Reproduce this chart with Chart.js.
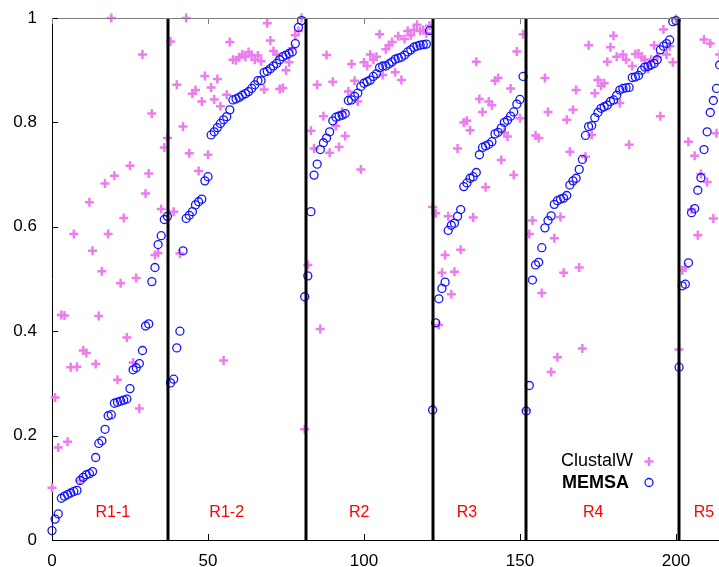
<!DOCTYPE html>
<html>
<head>
<meta charset="utf-8">
<script src="https://cdn.jsdelivr.net/npm/chart.js@4.4.1/dist/chart.umd.min.js"></script>
<style>
  html, body { margin: 0; background: #fff; overflow: hidden; }
  /* the canvas is a bit wider than the window: the plot runs off the right edge */
  #wrap { width: 719px; height: 567px; overflow: hidden; }
</style>
</head>
<body>
<div id="wrap"><canvas id="scatterChart" width="726" height="567"></canvas></div>
<script>
// region names and where they sit on the x axis
const regionNames = ['R1-1', 'R1-2', 'R2', 'R3', 'R4', 'R5'];
const regionLabelX = [19.5, 56, 98.5, 133, 173.5, 209];
const boundaries = [37.3, 81.3, 122.2, 151.9, 201.1];

const xTicks = [0, 50, 100, 150, 200];
const yTicks = [0, 0.2, 0.4, 0.6, 0.8, 1];

// MEMSA scores, per region (sorted)
const memsaR11 = [0.018, 0.04, 0.05, 0.08, 0.084, 0.087, 0.09, 0.093, 0.095, 0.114, 0.12, 0.125, 0.127, 0.131, 0.158, 0.185, 0.19, 0.212, 0.238, 0.24, 0.262, 0.264, 0.266, 0.268, 0.27, 0.29, 0.326, 0.33, 0.338, 0.363, 0.41, 0.414, 0.495, 0.522, 0.566, 0.583, 0.614, 0.62];
const memsaR12 = [0.301, 0.308, 0.368, 0.40, 0.554, 0.616, 0.622, 0.629, 0.642, 0.648, 0.653, 0.688, 0.696, 0.776, 0.782, 0.79, 0.798, 0.805, 0.811, 0.824, 0.843, 0.845, 0.848, 0.852, 0.855, 0.859, 0.865, 0.872, 0.88, 0.88, 0.896, 0.898, 0.903, 0.908, 0.913, 0.92, 0.926, 0.929, 0.932, 0.935, 0.951, 0.982, 0.995];
const memsaR2 = [0.466, 0.506, 0.629, 0.699, 0.72, 0.748, 0.761, 0.77, 0.782, 0.803, 0.81, 0.812, 0.814, 0.817, 0.842, 0.843, 0.85, 0.856, 0.869, 0.875, 0.878, 0.881, 0.888, 0.893, 0.905, 0.908, 0.908, 0.912, 0.916, 0.921, 0.923, 0.925, 0.929, 0.935, 0.939, 0.944, 0.946, 0.948, 0.949, 0.95, 0.976];
const memsaR3 = [0.249, 0.416, 0.462, 0.482, 0.494, 0.593, 0.603, 0.607, 0.62, 0.633, 0.677, 0.684, 0.693, 0.696, 0.704, 0.738, 0.752, 0.755, 0.758, 0.763, 0.778, 0.781, 0.789, 0.8, 0.804, 0.812, 0.82, 0.835, 0.844, 0.888];
const memsaR4 = [0.247, 0.296, 0.498, 0.527, 0.532, 0.56, 0.598, 0.612, 0.621, 0.643, 0.65, 0.653, 0.655, 0.66, 0.68, 0.688, 0.693, 0.71, 0.729, 0.775, 0.792, 0.794, 0.809, 0.819, 0.827, 0.83, 0.833, 0.84, 0.843, 0.852, 0.862, 0.865, 0.866, 0.867, 0.886, 0.887, 0.89, 0.9, 0.906, 0.907, 0.91, 0.913, 0.92, 0.939, 0.946, 0.951, 0.958, 0.993, 0.995];
const memsaR5 = [0.331, 0.487, 0.49, 0.531, 0.627, 0.635, 0.67, 0.694, 0.748, 0.782, 0.819, 0.842, 0.865, 0.91];

// ClustalW scores, same alignments
const clustalR11 = [0.10, 0.273, 0.177, 0.431, 0.43, 0.188, 0.331, 0.586, 0.332, 0.114, 0.363, 0.358, 0.647, 0.554, 0.337, 0.429, 0.515, 0.683, 0.586, 1.0, 0.698, 0.307, 0.492, 0.617, 0.388, 0.717, 0.34, 0.502, 0.252, 0.93, 0.664, 0.702, 0.817, 0.546, 0.55, 0.634, 0.752, 0.77];
const clustalR12 = [0.955, 0.629, 0.872, 0.549, 0.792, 1.0, 0.741, 0.855, 0.862, 0.707, 0.84, 0.889, 0.738, 0.867, 0.844, 0.883, 0.831, 0.344, 0.853, 0.954, 0.92, 0.919, 0.925, 0.93, 0.926, 0.935, 0.929, 0.92, 0.928, 0.917, 0.863, 0.99, 0.957, 0.937, 0.93, 0.864, 0.866, 0.9, 0.915, 0.942, 0.967, 0.975, 1.0];
const clustalR2 = [0.212, 0.527, 0.784, 0.75, 0.872, 0.404, 0.812, 0.929, 0.742, 0.878, 0.793, 0.753, 0.82, 0.774, 0.859, 0.912, 0.88, 0.84, 0.71, 0.915, 0.908, 0.93, 0.92, 0.926, 0.969, 0.891, 0.94, 0.948, 0.954, 0.896, 0.965, 0.881, 0.96, 0.975, 0.967, 0.977, 0.987, 0.975, 0.977, 0.971, 0.985];
const clustalR3 = [0.638, 0.626, 0.412, 0.512, 0.546, 0.62, 0.471, 0.514, 0.75, 0.556, 0.80, 0.803, 0.785, 0.618, 0.916, 0.845, 0.82, 0.676, 0.84, 0.833, 0.88, 0.885, 0.728, 0.78, 0.773, 0.865, 0.699, 0.936, 0.808, 0.969];
const clustalR4 = [0.249, 0.586, 0.612, 0.775, 0.77, 0.473, 0.885, 0.82, 0.322, 0.578, 0.35, 0.619, 0.512, 0.805, 0.744, 0.824, 0.862, 0.522, 0.367, 0.734, 0.948, 0.776, 0.856, 0.881, 0.87, 0.875, 0.916, 0.944, 0.966, 0.926, 0.837, 0.93, 0.92, 0.757, 0.908, 0.931, 0.932, 0.925, 0.92, 0.903, 0.92, 0.948, 0.925, 0.812, 0.978, 0.93, 0.946, 0.915, 0.998];
const clustalR5 = [0.365, 0.517, 0.522, 0.763, 0.633, 0.736, 0.584, 0.701, 0.959, 0.686, 0.951, 0.616, 0.779, 0.93];

const memsa = [].concat(memsaR11, memsaR12, memsaR2, memsaR3, memsaR4, memsaR5);
const clustal = [].concat(clustalR11, clustalR12, clustalR2, clustalR3, clustalR4, clustalR5);

function toPoints(arr) {
  return arr.map(function (v, i) { return { x: i, y: v }; });
}

const PINK = 'rgb(236,125,236)';
const BLUE = '#1414ff';
const FONT = "'Liberation Sans', Arial, sans-serif";

// vertical region lines, inward ticks, frame, region labels, key
const decorations = {
  id: 'decorations',
  afterDatasetsDraw(chart) {
    const ctx = chart.ctx;
    const area = chart.chartArea;
    const xs = chart.scales.x;
    ctx.save();
    ctx.strokeStyle = '#000';
    ctx.lineWidth = 3;
    boundaries.forEach(function (b) {
      const px = Math.round(xs.getPixelForValue(b));
      ctx.beginPath();
      ctx.moveTo(px, area.top);
      ctx.lineTo(px, area.bottom);
      ctx.stroke();
    });
    ctx.restore();
  },
  afterDraw(chart) {
    const ctx = chart.ctx;
    const area = chart.chartArea;
    const xs = chart.scales.x;
    const ys = chart.scales.y;
    ctx.save();

    // top border
    ctx.strokeStyle = '#808080';
    ctx.lineWidth = 1;
    ctx.beginPath();
    ctx.moveTo(area.left, area.top + 0.5);
    ctx.lineTo(area.right, area.top + 0.5);
    ctx.stroke();

    // ticks
    yTicks.forEach(function (v) {
      const py = Math.round(ys.getPixelForValue(v)) + 0.5;
      ctx.strokeStyle = '#000';
      ctx.beginPath();
      ctx.moveTo(area.left, py);
      ctx.lineTo(area.left + 6, py);
      ctx.stroke();
    });
    xTicks.forEach(function (v) {
      const px = Math.round(xs.getPixelForValue(v)) + 0.5;
      ctx.strokeStyle = '#000';
      ctx.beginPath();
      ctx.moveTo(px, area.bottom);
      ctx.lineTo(px, area.bottom - 6);
      ctx.stroke();
      ctx.strokeStyle = '#808080';
      ctx.beginPath();
      ctx.moveTo(px, area.top);
      ctx.lineTo(px, area.top + 6);
      ctx.stroke();
    });

    // region names
    ctx.fillStyle = '#ff0000';
    ctx.font = '16px ' + FONT;
    ctx.textAlign = 'center';
    ctx.textBaseline = 'middle';
    regionNames.forEach(function (name, i) {
      ctx.fillText(name, xs.getPixelForValue(regionLabelX[i]), ys.getPixelForValue(0.052));
    });

    // key
    ctx.fillStyle = '#000';
    ctx.textAlign = 'right';
    ctx.font = '18px ' + FONT;
    ctx.fillText('ClustalW', 633, 461);
    ctx.font = 'bold 18px ' + FONT;
    ctx.fillText('MEMSA', 629, 483);

    ctx.strokeStyle = PINK;
    ctx.lineWidth = 2.5;
    ctx.beginPath();
    ctx.moveTo(644.5, 461.5);
    ctx.lineTo(653.5, 461.5);
    ctx.moveTo(649, 457);
    ctx.lineTo(649, 466);
    ctx.stroke();

    ctx.strokeStyle = BLUE;
    ctx.lineWidth = 1.3;
    ctx.beginPath();
    ctx.arc(649, 482.5, 4, 0, Math.PI * 2);
    ctx.stroke();

    ctx.restore();
  }
};

const ctx = document.getElementById('scatterChart').getContext('2d');

const scatterChart = new Chart(ctx, {
  type: 'scatter',
  data: {
    datasets: [
      {
        label: 'ClustalW',
        data: toPoints(clustal),
        pointStyle: 'cross',
        pointRadius: 4.5,
        pointHoverRadius: 4.5,
        borderWidth: 2.5,
        borderColor: PINK,
        backgroundColor: PINK,
        clip: false,
        order: 2
      },
      {
        label: 'MEMSA',
        data: toPoints(memsa),
        pointStyle: 'circle',
        pointRadius: 4,
        pointHoverRadius: 4,
        borderWidth: 1.3,
        borderColor: BLUE,
        backgroundColor: 'rgba(0,0,0,0)',
        clip: false,
        order: 1
      }
    ]
  },
  options: {
    responsive: false,
    animation: false,
    layout: { padding: { top: 18, right: 0, left: 0, bottom: 0 } },
    plugins: {
      legend: { display: false },
      tooltip: { enabled: false }
    },
    scales: {
      x: {
        type: 'linear',
        min: 0,
        max: 213.8,
        afterFit: function (scale) {
          scale.height = 27;
          scale.paddingLeft = 0;
          scale.paddingRight = 0;
        },
        afterBuildTicks: function (scale) {
          scale.ticks = xTicks.map(function (v) { return { value: v }; });
        },
        grid: { display: false, drawTicks: false },
        border: { display: true, color: '#000', width: 1 },
        ticks: {
          padding: 11,
          maxRotation: 0,
          color: '#000',
          font: { family: FONT, size: 17 }
        }
      },
      y: {
        min: 0,
        max: 1,
        afterFit: function (scale) {
          scale.width = 52;
          scale.paddingTop = 0;
          scale.paddingBottom = 0;
        },
        afterBuildTicks: function (scale) {
          scale.ticks = yTicks.map(function (v) { return { value: v }; });
        },
        grid: { display: false, drawTicks: false },
        border: { display: true, color: '#000', width: 1 },
        ticks: {
          padding: 15,
          color: '#000',
          font: { family: FONT, size: 17 },
          callback: function (value) {
            return String(Math.round(value * 10) / 10);
          }
        }
      }
    }
  },
  plugins: [decorations]
});
</script>
</body>
</html>
